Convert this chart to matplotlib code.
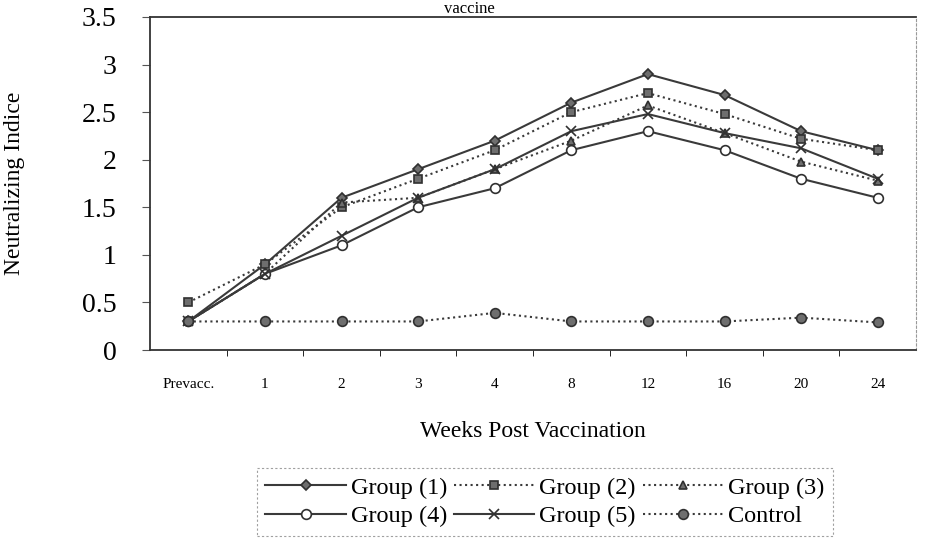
import matplotlib
matplotlib.use("Agg")
import matplotlib.pyplot as plt
import numpy as np

weeks = ["Prevacc.", "1", "2", "3", "4", "8", "12", "16", "20", "24"]
group1 = [0.3, 0.9, 1.6, 1.9, 2.2, 2.6, 2.9, 2.68, 2.3, 2.1]
group2 = [0.5, 0.9, 1.5, 1.8, 2.1, 2.5, 2.7, 2.48, 2.22, 2.1]
group3 = [0.3, 0.8, 1.55, 1.6, 1.9, 2.2, 2.57, 2.28, 1.98, 1.78]
group4 = [0.3, 0.8, 1.1, 1.5, 1.7, 2.1, 2.3, 2.1, 1.8, 1.6]
group5 = [0.3, 0.8, 1.2, 1.6, 1.9, 2.3, 2.48, 2.28, 2.12, 1.8]
control = [0.3, 0.3, 0.3, 0.3, 0.39, 0.3, 0.3, 0.3, 0.34, 0.29]

plt.rcParams["font.family"] = ["Liberation Serif", "DejaVu Serif"]

fig = plt.figure(figsize=(9.3, 5.53), dpi=100)
ax = fig.add_axes([150 / 930, 1 - 350 / 553, (916 - 150) / 930, (350 - 17) / 553])

x = np.arange(len(weeks))
line_c = "#3a3a3a"
mark_c = "#6e6e6e"
series = [
    (group1, "Group (1)", "-", "D", mark_c, 5),
    (group2, "Group (2)", ":", "s", mark_c, 6),
    (group3, "Group (3)", ":", "^", mark_c, 6),
    (group4, "Group (4)", "-", "o", "white", 7),
    (group5, "Group (5)", "-", "x", mark_c, 7),
    (control, "Control", ":", "o", mark_c, 7),
]
handles = []
for vals, lab, ls, mk, fc, ms in series:
    h, = ax.plot(x, vals, linestyle=ls, color=line_c, lw=1.5, marker=mk,
                 markerfacecolor=fc, markeredgecolor="#303030", markersize=ms,
                 markeredgewidth=1.2, label=lab)
    handles.append(h)

ax.set_xlim(-0.5, len(weeks) - 0.5)
ax.set_ylim(0, 3.5)
ax.set_yticks(np.arange(0, 3.51, 0.5))
ax.set_yticklabels(["0", "0.5", "1", "1.5", "2", "2.5", "3", "3.5"], fontsize=20)
ax.set_xticks(x)
ax.set_xticklabels(weeks, fontsize=11)
ax.tick_params(axis="x", length=0, pad=20)
ax.set_xticks(np.arange(0.5, len(weeks) - 0.5, 1), minor=True)
ax.tick_params(axis="x", which="minor", length=4, direction="out")
ax.tick_params(axis="y", length=6, direction="out", color="#555555", pad=18)

for s in ["left", "bottom", "top"]:
    ax.spines[s].set_color("#333333")
    ax.spines[s].set_linewidth(1.3)
ax.spines["right"].set_color("#999999")
ax.spines["right"].set_linestyle((0, (2, 2)))
ax.spines["right"].set_linewidth(0.8)

ax.set_xlabel("Weeks Post Vaccination", fontsize=17, labelpad=22)
ax.set_ylabel("Neutralizing Indice", fontsize=17)
ax.yaxis.set_label_coords(-125 / 766, 0.5)
fig.text(0.505, 0.999, "vaccine", ha="center", va="top", fontsize=12)

# matplotlib fills legend columns first, so reorder to read row by row
order = [0, 3, 1, 4, 2, 5]
leg = fig.legend([handles[i] for i in order], [series[i][1] for i in order],
                 loc="center", bbox_to_anchor=(545 / 930, 1 - 502 / 553), ncol=3,
                 fontsize=17.5, frameon=True, fancybox=False, handlelength=3.3,
                 columnspacing=0.3, handletextpad=0.2, labelspacing=0.25,
                 borderpad=0.35, edgecolor="#888888")
leg.get_frame().set_linestyle((0, (2, 2)))
leg.get_frame().set_linewidth(0.8)

fig.savefig("out.png", dpi=100)
